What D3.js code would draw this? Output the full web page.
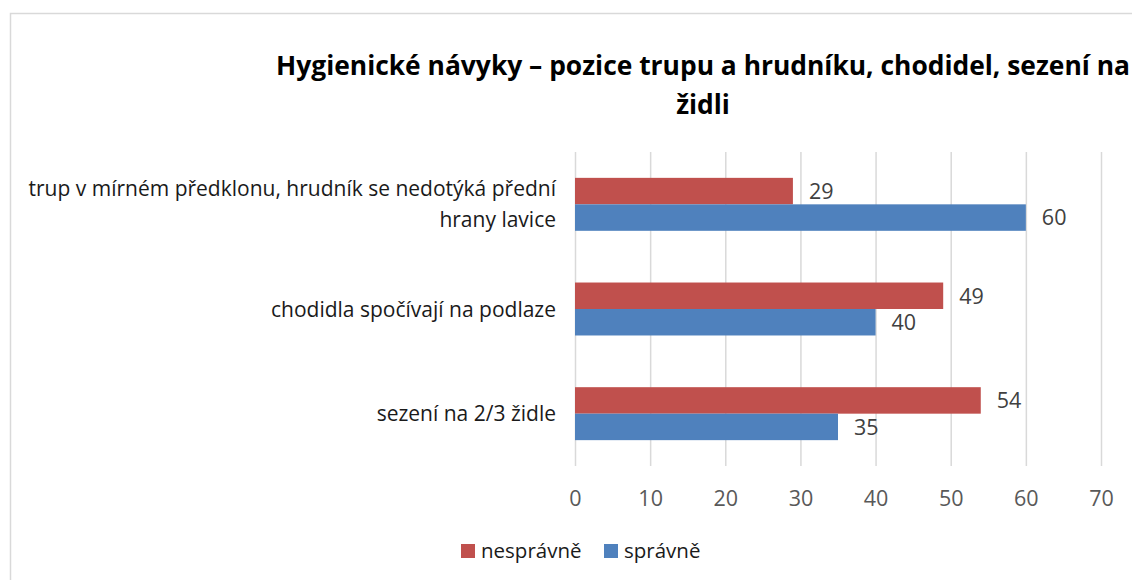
<!DOCTYPE html>
<html><head><meta charset="utf-8">
<script src="https://cdn.jsdelivr.net/npm/d3@7"></script>
<style>
body{margin:0;background:#fff;}
svg{display:block;font-family:"Open Sans",sans-serif;}
</style></head>
<body><div id="chart"></div>
<script>
const categories = [
  ["trup v mírném předklonu, hrudník se nedotýká přední", "hrany lavice"],
  ["chodidla spočívají na podlaze"],
  ["sezení na 2/3 židle"]
];
const seriesNames = ["nesprávně", "správně"];
const nespravne = [29, 49, 54];
const spravne = [60, 40, 35];
const xTicks = [0, 10, 20, 30, 40, 50, 60, 70];
const titleLines = ["Hygienické návyky – pozice trupu a hrudníku, chodidel, sezení na", "židli"];
const colors = ["#C0504D", "#4F81BD"];

const W = 1132, H = 580;
const FS = 21, FSN = 21.5;
const svg = d3.select("#chart").append("svg").attr("width", W).attr("height", H);

svg.append("rect").attr("x", 10.5).attr("y", 13.5).attr("width", 1200).attr("height", 700)
  .attr("fill", "#fff").attr("stroke", "#d9d9d9").attr("stroke-width", 1.5);

const x = d3.scaleLinear().domain([0, 70]).range([575, 1101]);
const y = d3.scaleBand().domain(d3.range(categories.length)).range([152, 466]).paddingInner(0.494).paddingOuter(0.247);
const ySub = d3.scaleBand().domain([0, 1]).range([0, y.bandwidth()]);

// gridlines
svg.append("g").selectAll("line").data(xTicks).join("line")
  .attr("x1", d => x(d) + 0.5).attr("x2", d => x(d) + 0.5)
  .attr("y1", 152).attr("y2", 466)
  .attr("stroke", "#d9d9d9").attr("stroke-width", 1.5);

// x axis tick labels
const xAxis = d3.axisBottom(x).tickValues(xTicks).tickSize(0).tickPadding(0);
const gx = svg.append("g").attr("transform", "translate(0,498)").call(xAxis);
gx.select(".domain").remove();
gx.selectAll("text").attr("font-size", FSN).attr("fill", "#595959").attr("font-family", "'Open Sans',sans-serif").attr("dy", "0.36em");

const data = categories.map((c, i) => ({i, vals: [nespravne[i], spravne[i]]}));
const g = svg.append("g");
const cat = g.selectAll("g.cat").data(data).join("g").attr("class", "cat")
  .attr("transform", d => `translate(0,${y(d.i)})`);
cat.selectAll("rect").data(d => d.vals.map((v, k) => ({v, k}))).join("rect")
  .attr("x", x(0)).attr("y", d => ySub(d.k)).attr("height", ySub.bandwidth())
  .attr("width", d => x(d.v) - x(0)).attr("fill", d => colors[d.k]);
cat.selectAll("text.lbl").data(d => d.vals.map((v, k) => ({v, k}))).join("text").attr("class", "lbl")
  .attr("x", d => x(d.v) + 16).attr("y", d => ySub(d.k) + ySub.bandwidth() / 2).attr("dy", "0.36em")
  .attr("font-size", FSN).attr("fill", "#404040").text(d => d.v);

// category labels
const catLab = svg.append("g").selectAll("text").data(categories).join("text")
  .attr("text-anchor", "end").attr("font-size", FS).attr("fill", "#1a1a1a")
  .attr("transform", (d, i) => `translate(556,${y(i) + y.bandwidth() / 2})`);
catLab.selectAll("tspan").data(d => d.map((t, j) => ({t, j, n: d.length}))).join("tspan")
  .attr("x", 0).attr("y", d => (d.j - (d.n - 1) / 2) * 31).attr("dy", "0.36em").text(d => d.t);

// title
svg.append("g").selectAll("text").data(titleLines).join("text")
  .attr("x", 703).attr("y", (d, i) => 75 + i * 38.5).attr("text-anchor", "middle")
  .attr("font-size", 26.4).attr("font-weight", "bold").attr("fill", "#000").text(d => d);

// legend
const leg = svg.append("g").selectAll("g").data(seriesNames).join("g")
  .attr("transform", (d, i) => `translate(${[461, 604][i]},544)`);
leg.append("rect").attr("width", 14).attr("height", 14).attr("fill", (d, i) => colors[i]);
leg.append("text").attr("x", 20).attr("y", 7).attr("dy", "0.36em").attr("font-size", 20.5).attr("fill", "#1a1a1a").text(d => d);
</script></body></html>
